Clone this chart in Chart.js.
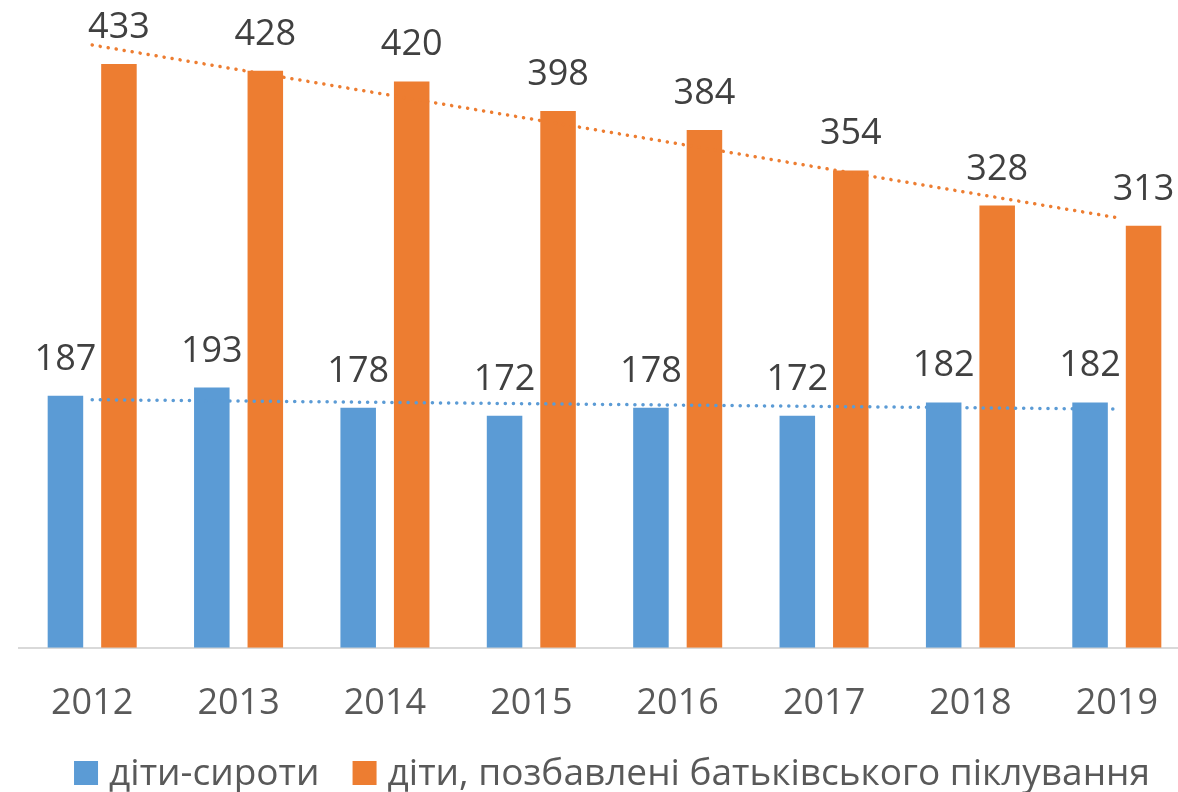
<!DOCTYPE html>
<html>
<head>
<meta charset="utf-8">
<script src="https://cdn.jsdelivr.net/npm/chart.js@4"></script>
<style>
  html, body { margin: 0; padding: 0; background: #fff; overflow: hidden; }
  #wrap { width: 1200px; height: 792px; }
</style>
</head>
<body>
<div id="wrap"><canvas id="my-chart" width="1200" height="792"></canvas></div>
<script>
// chart values
const years = ['2012', '2013', '2014', '2015', '2016', '2017', '2018', '2019'];
const orphans = [187, 193, 178, 172, 178, 172, 182, 182];
const deprived = [433, 428, 420, 398, 384, 354, 328, 313];
// trendline ends (first and last year)
const orphansTrend = [184, null, null, null, null, null, null, 177];
const deprivedTrend = [447, null, null, null, null, null, null, 319];
const seriesNames = ['діти-сироти', 'діти, позбавлені батьківського піклування'];

const blue = '#5B9BD5';
const orange = '#ED7D31';
const font = '"Open Sans", sans-serif';

// value labels above bars
const valueLabels = {
  id: 'valueLabels',
  afterDatasetsDraw(chart) {
    const ctx = chart.ctx;
    ctx.save();
    ctx.font = '36px ' + font;
    ctx.fillStyle = '#404040';
    ctx.textAlign = 'center';
    ctx.textBaseline = 'alphabetic';
    chart.data.datasets.forEach((ds, i) => {
      if (ds.type === 'line') return;
      chart.getDatasetMeta(i).data.forEach((bar, j) => {
        ctx.fillText(ds.data[j], bar.x, bar.y - 26);
      });
    });
    ctx.restore();
  }
};

// legend under the axis, centred like the original
const bottomLegend = {
  id: 'bottomLegend',
  afterDraw(chart) {
    const ctx = chart.ctx;
    const box = 24, gap = 11, itemGap = 33, baseline = 785, center = 612;
    ctx.save();
    ctx.font = '37px ' + font;
    ctx.textBaseline = 'alphabetic';
    const bars = chart.data.datasets.filter(ds => ds.type !== 'line');
    const widths = bars.map(ds => ctx.measureText(ds.label).width);
    let total = widths.reduce((a, w) => a + box + gap + w, 0) + itemGap * (bars.length - 1);
    let x = center - total / 2;
    bars.forEach((ds, i) => {
      ctx.fillStyle = ds.backgroundColor;
      ctx.fillRect(x, baseline - box, box, box);
      x += box + gap;
      ctx.fillStyle = '#595959';
      ctx.fillText(ds.label, x, baseline);
      x += widths[i] + itemGap;
    });
    ctx.restore();
  }
};

const ctx = document.getElementById('my-chart').getContext('2d');
const chart = new Chart(ctx, {
  type: 'bar',
  data: {
    labels: years,
    datasets: [
      {
        label: seriesNames[0],
        data: orphans,
        backgroundColor: blue,
        categoryPercentage: 0.731,
        barPercentage: 0.664,
        order: 1
      },
      {
        label: seriesNames[1],
        data: deprived,
        backgroundColor: orange,
        categoryPercentage: 0.731,
        barPercentage: 0.664,
        order: 1
      },
      {
        type: 'line',
        label: 'trend1',
        data: orphansTrend,
        borderColor: blue,
        borderWidth: 3.5,
        borderDash: [0.1, 8],
        borderCapStyle: 'round',
        pointRadius: 0,
        spanGaps: true,
        order: 0
      },
      {
        type: 'line',
        label: 'trend2',
        data: deprivedTrend,
        borderColor: orange,
        borderWidth: 3.5,
        borderDash: [0.1, 8],
        borderCapStyle: 'round',
        pointRadius: 0,
        spanGaps: true,
        order: 0
      }
    ]
  },
  options: {
    responsive: false,
    animation: false,
    layout: { padding: { left: 19, right: 10, top: 41, bottom: 33 } },
    scales: {
      x: {
        grid: { display: false, drawTicks: false },
        border: { color: '#D9D9D9', width: 2 },
        ticks: { color: '#595959', font: { family: font, size: 36 }, padding: 34 }
      },
      y: {
        display: false,
        min: 0,
        max: 450
      }
    },
    plugins: {
      legend: { display: false },
      tooltip: { enabled: false }
    }
  },
  plugins: [valueLabels, bottomLegend]
});
</script>
</body>
</html>
